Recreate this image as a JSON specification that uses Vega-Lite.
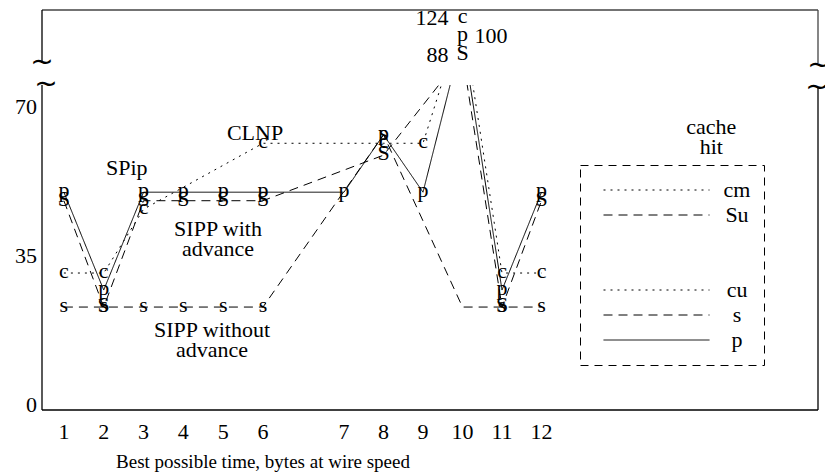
{
  "$schema": "https://vega.github.io/schema/vega-lite/v6.json",
  "width": 776,
  "height": 325,
  "autosize": "none",
  "padding": {"left": 42, "top": 85, "right": 7, "bottom": 65},
  "background": "white",
  "config": {
    "view": {"stroke": null},
    "font": "Liberation Serif",
    "text": {"font": "Liberation Serif", "fontSize": 22, "color": "black"}
  },
  "datasets": {
    "series": [
      {"x": 1, "series": "cm", "v": 31}, {"x": 2, "series": "cm", "v": 31}, {"x": 3, "series": "cm", "v": 46}, {"x": 6, "series": "cm", "v": 61.5}, {"x": 8, "series": "cm", "v": 61.5}, {"x": 9, "series": "cm", "v": 61.5}, {"x": 10, "series": "cm", "v": 124}, {"x": 11, "series": "cm", "v": 31}, {"x": 12, "series": "cm", "v": 31},
      {"x": 1, "series": "Su", "v": 48}, {"x": 2, "series": "Su", "v": 23}, {"x": 3, "series": "Su", "v": 48}, {"x": 4, "series": "Su", "v": 48}, {"x": 5, "series": "Su", "v": 48}, {"x": 6, "series": "Su", "v": 48}, {"x": 8, "series": "Su", "v": 58.7}, {"x": 10, "series": "Su", "v": 88}, {"x": 11, "series": "Su", "v": 23}, {"x": 12, "series": "Su", "v": 48},
      {"x": 1, "series": "s", "v": 23}, {"x": 2, "series": "s", "v": 23}, {"x": 3, "series": "s", "v": 23}, {"x": 4, "series": "s", "v": 23}, {"x": 5, "series": "s", "v": 23}, {"x": 6, "series": "s", "v": 23}, {"x": 8, "series": "s", "v": 63.5}, {"x": 10, "series": "s", "v": 23}, {"x": 11, "series": "s", "v": 23}, {"x": 12, "series": "s", "v": 23},
      {"x": 1, "series": "p", "v": 50}, {"x": 2, "series": "p", "v": 27}, {"x": 3, "series": "p", "v": 50}, {"x": 4, "series": "p", "v": 50}, {"x": 5, "series": "p", "v": 50}, {"x": 6, "series": "p", "v": 50}, {"x": 7, "series": "p", "v": 50}, {"x": 8, "series": "p", "v": 63.5}, {"x": 9, "series": "p", "v": 50}, {"x": 10, "series": "p", "v": 100}, {"x": 11, "series": "p", "v": 27}, {"x": 12, "series": "p", "v": 50}
    ],
    "notes": [
      {"x": 5.8, "y": 63.9, "label": "CLNP"},
      {"x": 2.58, "y": 55.7, "label": "SPip"},
      {"x": 4.87, "y": 41.4, "label": "SIPP with\nadvance"},
      {"x": 4.72, "y": 17.6, "label": "SIPP without\nadvance"},
      {"x": 16.3, "y": 65.3, "label": "cache\nhit"}
    ],
    "xticks": [{"tick": 1}, {"tick": 2}, {"tick": 3}, {"tick": 4}, {"tick": 5}, {"tick": 6}, {"tick": 7}, {"tick": 8}, {"tick": 9}, {"tick": 10}, {"tick": 11}, {"tick": 12}],
    "yticks": [{"tick": 0}, {"tick": 35}, {"tick": 70}]
  },
  "layer": [
    {
      "data": {"name": "series"},
      "mark": {"type": "line", "clip": true, "color": "black", "strokeWidth": 1},
      "encoding": {
        "x": {"field": "x", "type": "quantitative", "scale": {"domain": [0.45, 6, 7, 19], "range": [0, 221, 302, 776], "nice": false, "zero": false}, "axis": null},
        "y": {"field": "v", "type": "quantitative", "scale": {"domain": [-1.2, 75.2, 80, 88, 100, 124, 135], "range": [325, 0, -22, -30, -49, -67, -75], "nice": false, "zero": false}, "axis": null},
        "strokeDash": {"field": "series", "type": "nominal",
          "scale": {"domain": ["cm", "Su", " ", "  ", "cu", "s", "p"], "range": [[2, 5], [9, 6], [0, 1000], [0, 1000], [2, 5], [9, 6], [1, 0]]},
          "legend": {"title": null, "orient": "none", "legendX": 538, "legendY": 80, "symbolType": "stroke", "symbolSize": 11236, "symbolStrokeWidth": 1, "symbolStrokeColor": "black", "clipHeight": 24, "rowPadding": 1, "padding": 13, "symbolOffset": 10, "labelFont": "Liberation Serif", "labelFontSize": 22, "labelColor": "black", "labelAlign": "center", "labelOffset": 27, "labelLimit": 100, "strokeColor": "black",
            "encode": {"legend": {"update": {"strokeDash": {"value": [8, 6]}, "strokeWidth": {"value": 1}}}}}
        }
      }
    },
    {
      "data": {"name": "series"},
      "transform": [
        {"calculate": "datum.series === 'cm' ? 'c' : (datum.series === 'Su' ? 'S' : datum.series)", "as": "marker"},
        {"filter": "datum.x !== 10 || datum.series !== 's'"}
      ],
      "mark": {"type": "text", "fontSize": 22, "baseline": "alphabetic", "dy": 5},
      "encoding": {
        "x": {"field": "x", "type": "quantitative", "axis": null},
        "y": {"field": "v", "type": "quantitative", "axis": null},
        "text": {"field": "marker"}
      }
    },
    {
      "data": {"name": "series"},
      "transform": [{"filter": "datum.x === 10 && (datum.series === 'cm' || datum.series === 'Su')"}],
      "mark": {"type": "text", "fontSize": 22, "baseline": "middle", "align": "right", "dx": -14},
      "encoding": {
        "x": {"field": "x", "type": "quantitative", "axis": null},
        "y": {"field": "v", "type": "quantitative", "axis": null},
        "text": {"field": "v", "format": "d"}
      }
    },
    {
      "data": {"name": "series"},
      "transform": [{"filter": "datum.x === 10 && datum.series === 'p'"}],
      "mark": {"type": "text", "fontSize": 22, "baseline": "middle", "align": "left", "dx": 12},
      "encoding": {
        "x": {"field": "x", "type": "quantitative", "axis": null},
        "y": {"field": "v", "type": "quantitative", "axis": null},
        "text": {"field": "v", "format": "d"}
      }
    },
    {
      "data": {"name": "notes"},
      "mark": {"type": "text", "fontSize": 22, "baseline": "middle", "align": "center", "lineBreak": "\n", "lineHeight": 20},
      "encoding": {
        "x": {"field": "x", "type": "quantitative", "axis": null},
        "y": {"field": "y", "type": "quantitative", "axis": null},
        "text": {"field": "label"}
      }
    },
    {
      "data": {"name": "xticks"},
      "mark": {"type": "text", "fontSize": 22, "baseline": "middle", "align": "center", "dy": 22},
      "encoding": {
        "x": {"field": "tick", "type": "quantitative", "axis": null},
        "y": {"datum": -1.2, "type": "quantitative", "axis": null},
        "text": {"field": "tick"}
      }
    },
    {
      "data": {"name": "yticks"},
      "mark": {"type": "text", "fontSize": 22, "baseline": "middle", "align": "right", "dx": -5},
      "encoding": {
        "x": {"datum": 0.45, "type": "quantitative", "axis": null},
        "y": {"field": "tick", "type": "quantitative", "axis": null},
        "text": {"field": "tick"}
      }
    },
    {
      "data": {"values": [{"title": "Best possible time, bytes at wire speed"}]},
      "mark": {"type": "text", "fontSize": 19, "baseline": "middle", "align": "center", "dy": 52},
      "encoding": {
        "x": {"datum": 6, "type": "quantitative", "axis": null},
        "y": {"datum": -1.2, "type": "quantitative", "axis": null},
        "text": {"field": "title"}
      }
    },
    {
      "data": {"values": [{}]},
      "mark": {"type": "rule", "color": "black", "strokeWidth": 1.3},
      "encoding": {"y": {"datum": -1.2, "type": "quantitative", "axis": null}}
    },
    {
      "data": {"values": [{}]},
      "mark": {"type": "rule", "color": "#444", "strokeWidth": 1.5},
      "encoding": {"y": {"datum": 135, "type": "quantitative", "axis": null}}
    },
    {
      "data": {"values": [{}]},
      "mark": {"type": "rule", "color": "black", "strokeWidth": 1.3},
      "encoding": {"x": {"datum": 0.45, "type": "quantitative", "axis": null}, "y": {"datum": -1.2, "type": "quantitative", "axis": null}, "y2": {"datum": 75.2}}
    },
    {
      "data": {"values": [{}]},
      "mark": {"type": "rule", "color": "black", "strokeWidth": 1.3},
      "encoding": {"x": {"datum": 0.45, "type": "quantitative", "axis": null}, "y": {"datum": 80, "type": "quantitative", "axis": null}, "y2": {"datum": 135}}
    },
    {
      "data": {"values": [{}]},
      "mark": {"type": "rule", "color": "black", "strokeWidth": 1.3},
      "encoding": {"x": {"datum": 19, "type": "quantitative", "axis": null}, "y": {"datum": -1.2, "type": "quantitative", "axis": null}, "y2": {"datum": 74.5}}
    },
    {
      "data": {"values": [{}]},
      "mark": {"type": "rule", "color": "#444", "strokeWidth": 1.3},
      "encoding": {"x": {"datum": 19, "type": "quantitative", "axis": null}, "y": {"datum": 80, "type": "quantitative", "axis": null}, "y2": {"datum": 135}}
    },
    {
      "data": {"values": [{}]},
      "mark": {"type": "text", "font": "DejaVu Sans", "fontSize": 28, "baseline": "middle", "align": "center", "dx": 0},
      "encoding": {"x": {"datum": 0.45, "type": "quantitative", "axis": null}, "y": {"datum": 80, "type": "quantitative", "axis": null}, "text": {"value": "~"}}
    },
    {
      "data": {"values": [{}]},
      "mark": {"type": "text", "font": "DejaVu Sans", "fontSize": 28, "baseline": "middle", "align": "center", "dx": 4},
      "encoding": {"x": {"datum": 0.45, "type": "quantitative", "axis": null}, "y": {"datum": 75.2, "type": "quantitative", "axis": null}, "text": {"value": "~"}}
    },
    {
      "data": {"values": [{}]},
      "mark": {"type": "text", "font": "DejaVu Sans", "fontSize": 28, "baseline": "middle", "align": "center", "dx": 1, "dy": 3},
      "encoding": {"x": {"datum": 19, "type": "quantitative", "axis": null}, "y": {"datum": 80, "type": "quantitative", "axis": null}, "text": {"value": "~"}}
    },
    {
      "data": {"values": [{}]},
      "mark": {"type": "text", "font": "DejaVu Sans", "fontSize": 28, "baseline": "middle", "align": "center", "dx": -1, "dy": 3},
      "encoding": {"x": {"datum": 19, "type": "quantitative", "axis": null}, "y": {"datum": 75.2, "type": "quantitative", "axis": null}, "text": {"value": "~"}}
    }
  ]
}
